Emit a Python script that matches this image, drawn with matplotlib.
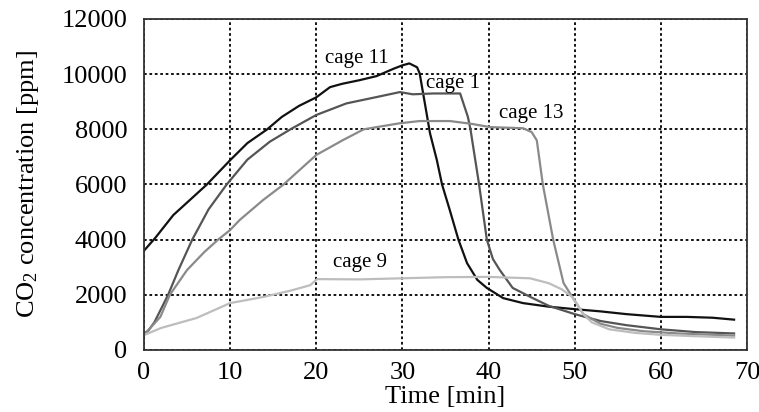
import matplotlib
matplotlib.use("Agg")
import matplotlib.pyplot as plt

matplotlib.rcParams.update({'font.size': 19,
                            'font.family': 'Liberation Serif',
                            'mathtext.fontset': 'custom',
                            'mathtext.rm': 'Liberation Serif',
                            'mathtext.default': 'rm'})

# time [min] / CO2 [ppm]
t11 = [0, 1.3, 3.4, 5.3, 7.3, 10, 12, 14.3, 16, 18, 20, 21.6, 23, 25, 27, 29, 30, 30.8,
       31.7, 32.0, 32.6, 33.2, 34.0, 34.6, 35.5, 36.5, 37.5, 38.7, 39.8, 41.7, 44, 47,
       50, 53, 56, 60, 63, 66, 68.5]
y11 = [3600, 4060, 4890, 5430, 6000, 6880, 7500, 8000, 8450, 8850, 9160, 9530, 9650,
       9780, 9930, 10200, 10320, 10390, 10250, 10030, 8950, 7860, 6880, 6000, 5070, 4000,
       3150, 2540, 2250, 1880, 1700, 1570, 1480, 1400, 1300, 1200, 1200, 1170, 1100]

t1 = [0, 0.5, 1.2, 2, 2.8, 4, 5.6, 7.5, 9.6, 12, 14.6, 17, 20, 23.5, 27, 29.7, 31.2,
      33.6, 36.7, 37.6, 37.9, 38.9, 39.8, 40.5, 41.3, 42.8, 44, 45, 47, 50, 53, 56, 60,
      64, 68.5]
y1 = [600, 700, 1000, 1500, 2000, 2900, 4000, 5100, 6000, 6900, 7550, 8000, 8520, 8940,
      9170, 9350, 9270, 9300, 9300, 8450, 8000, 6000, 4000, 3300, 2900, 2250, 2060, 1900,
      1600, 1300, 1050, 900, 750, 650, 600]

t13 = [0, 1.9, 3, 5, 7, 8.6, 10, 11.1, 13.8, 16.2, 20, 23.1, 25.5, 27, 29.7, 32, 35.5, 38,
       40.2, 44, 45, 45.6, 46.3, 47.5, 48.7, 49.8, 51, 53, 55, 58, 62, 68.5]
y13 = [550, 1200, 2000, 2900, 3550, 4000, 4350, 4710, 5430, 6000, 7070, 7610, 8000, 8080,
       8220, 8300, 8300, 8200, 8080, 8040, 7900, 7600, 6000, 4000, 2430, 1880, 1300, 950,
       800, 680, 600, 520]

t9 = [0, 2, 6.1, 10, 13.8, 17, 19.3, 20.1, 25, 30, 35, 40, 44.8, 47, 48.5, 49.8, 51, 52,
      54, 57, 60, 64, 68.5]
y9 = [540, 800, 1160, 1700, 1920, 2150, 2350, 2570, 2560, 2600, 2640, 2650, 2600, 2420,
      2200, 1900, 1300, 1000, 750, 620, 550, 500, 450]

series = [("cage 11", t11, y11, "#111111", (24.7, 10560)),
          ("cage 1", t1, y1, "#555555", (35.9, 9670)),
          ("cage 13", t13, y13, "#8a8a8a", (45.0, 8590)),
          ("cage 9", t9, y9, "#bdbdbd", (25.1, 3190))]

fig = plt.figure(figsize=(7.59, 4.12), dpi=100)
ax = fig.add_axes([0.1897, 0.1505, 0.7945, 0.8034])

for label, t, y, c, pos in series:
    ax.plot(t, y, color=c, linewidth=1.6)
    ax.text(pos[0], pos[1], label, ha="center", va="center", fontsize=15)

ax.set_xlim(0, 70)
ax.set_ylim(0, 12000)
ax.set_xticks(range(0, 71, 10))
ax.set_yticks(range(0, 12001, 2000))
ax.grid(True, color="k", linestyle=(0, (1.5, 1.5)), linewidth=1.3)
ax.tick_params(axis="y", length=0, pad=12)
ax.tick_params(axis="x", length=0, pad=9)
for s in ax.spines.values():
    s.set_color("#333333")
    s.set_linewidth(1.3)

ax.set_xlabel("Time [min]", labelpad=1)
ax.set_ylabel(r"CO$_2$ concentration [ppm]", labelpad=15)

fig.savefig("out.png", dpi=100)
